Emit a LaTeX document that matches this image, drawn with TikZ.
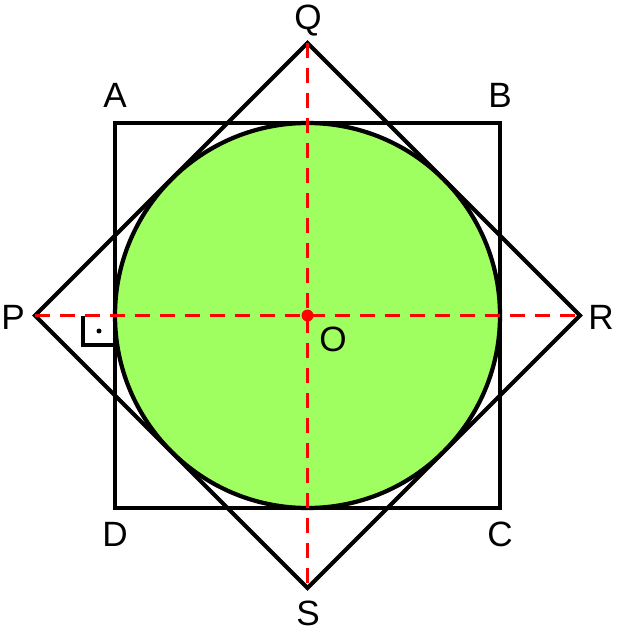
\documentclass[tikz,border=0pt]{standalone}
\usepackage{fontspec}
\setmainfont{Liberation Sans}
\usetikzlibrary{positioning}
\definecolor{discgreen}{RGB}{160,255,96}
\tikzset{
x=0.02cm, y=-0.02cm, % one unit is one pixel of the sketch
outline/.style={line width=2.4pt, line join=miter}, % the black square, rhombus and circle
axis/.style={red, line width=1.8pt, dash pattern=on 0.3cm off 0.2cm}, % the red dashed diagonals
letter/.style={font=\fontsize{20}{22}\selectfont, inner sep=0pt}, % the point names
}

\begin{document}
\begin{tikzpicture}
\useasboundingbox (0,0) rectangle (616,641);

\coordinate (O) at (307.5, 315.5);
\coordinate (A) at (115, 123);
\coordinate (B) at (500, 123);
\coordinate (C) at (500, 508);
\coordinate (D) at (115, 508);
\coordinate (P) at (35, 315.5);
\coordinate (Q) at (307.5, 43);
\coordinate (R) at (580, 315.5);
\coordinate (S) at (307.5, 588);

\fill[discgreen] (O) circle[radius=192.5];
\draw[outline] (O) circle[radius=192.5];
\draw[outline] (A) -- (B) -- (C) -- (D) -- cycle;
\draw[outline] (P) -- (Q) -- (R) -- (S) -- cycle;

% right angle at the foot on AD
\draw[line width=2.2pt] (83, 315.5) -- (83, 345) -- (115, 345);
\fill (99, 331) circle[radius=2.5];

\draw[axis] (P) -- (R);
\draw[axis] (Q) -- (S);
\fill[red] (O) circle[radius=6];

\node[letter] at (115, 95) (lA) {A};
\node[letter] at (500, 95) (lB) {B};
\node[letter] at (500, 534) (lC) {C};
\node[letter] at (115, 534) (lD) {D};
\node[letter] at (13, 317) (lP) {P};
\node[letter] at (308, 21) (lQ) {Q};
\node[letter] at (601, 317) (lR) {R};
\node[letter] at (308, 613) (lS) {S};
\node[letter] at (333, 339) (lO) {O};

\end{tikzpicture}
\end{document}
